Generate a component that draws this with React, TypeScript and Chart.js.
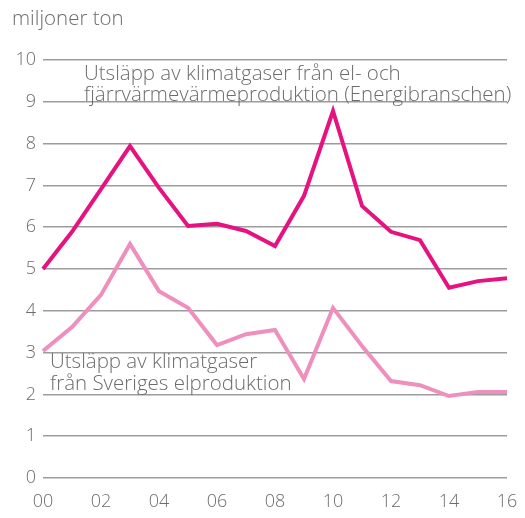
import React, { useEffect, useRef } from "react";
import { Chart, registerables } from "chart.js";

Chart.register(...registerables);

const years = ["00","01","02","03","04","05","06","07","08","09","10","11","12","13","14","15","16"];
const energySector = [5.0, 5.89, 6.91, 7.94, 6.94, 6.03, 6.08, 5.91, 5.55, 6.75, 8.78, 6.51, 5.89, 5.69, 4.55, 4.71, 4.78];
const electricity = [3.04, 3.61, 4.38, 5.6, 4.47, 4.07, 3.18, 3.44, 3.54, 2.37, 4.07, 3.16, 2.32, 2.22, 1.96, 2.06, 2.06];
const yTicks = [0, 1, 2, 3, 4, 5, 6, 7, 8, 9, 10];
const unitLabel = "miljoner ton";
const label1 = ["Utsläpp av klimatgaser från el- och", "fjärrvärmevärmeproduktion (Energibranschen)"];
const label2 = ["Utsläpp av klimatgaser", "från Sveriges elproduktion"];

const FONT = "'Open Sans', sans-serif";
const TEXT = "#6c6c6c";

const textPlugin = {
  id: "texts",
  afterDraw(chart: any) {
    const ctx = chart.ctx;
    ctx.save();
    ctx.fillStyle = TEXT;
    ctx.font = `300 20.5px ${FONT}`;
    ctx.textBaseline = "middle";
    ctx.textAlign = "left";
    ctx.fillText(unitLabel, 12, 19);
    ctx.fillText(label1[0], 84, 74);
    ctx.fillText(label1[1], 84, 95);
    ctx.fillText(label2[0], 50, 362);
    ctx.fillText(label2[1], 50, 384);
    ctx.restore();
  },
};

export default function App() {
  const ref = useRef<HTMLCanvasElement>(null);
  useEffect(() => {
    document.body.style.margin = "0";
    const chart = new Chart(ref.current!, {
      type: "line",
      data: {
        labels: years,
        datasets: [
          { data: energySector, borderColor: "#e5127f", borderWidth: 4, pointRadius: 0, tension: 0, borderJoinStyle: "miter" as any },
          { data: electricity, borderColor: "#ee8fbe", borderWidth: 4, pointRadius: 0, tension: 0, borderJoinStyle: "miter" as any },
        ],
      },
      options: {
        animation: false,
        responsive: false,
        layout: { padding: { top: 60, right: 18, left: 0, bottom: 0 } },
        plugins: { legend: { display: false }, tooltip: { enabled: false } },
        scales: {
          x: {
            grid: { display: false, drawTicks: false },
            border: { display: false },
            ticks: {
              autoSkip: false,
              maxRotation: 0,
              color: TEXT,
              font: { family: FONT, size: 18, weight: "300" as any },
              padding: 13,
              callback: (_v: any, i: number) => (i % 2 === 0 ? years[i] : ""),
            },
            afterFit: (s: any) => { s.height = 40; s.paddingLeft = 0; s.paddingRight = 0; },
          },
          y: {
            min: 0,
            max: 10,
            afterBuildTicks: (s: any) => { s.ticks = yTicks.map((v) => ({ value: v })); },
            grid: { color: "#9c9c9c", lineWidth: 1.5, drawTicks: false },
            border: { display: false },
            ticks: {
              color: TEXT,
              font: { family: FONT, size: 18, weight: "300" as any },
              padding: 7,
            },
            afterFit: (s: any) => { s.width = 43; },
          },
        },
      },
      plugins: [textPlugin],
    });
    return () => chart.destroy();
  }, []);
  return (
    <div style={{ width: 525, height: 518 }}>
      <canvas ref={ref} width={525} height={518} />
    </div>
  );
}
